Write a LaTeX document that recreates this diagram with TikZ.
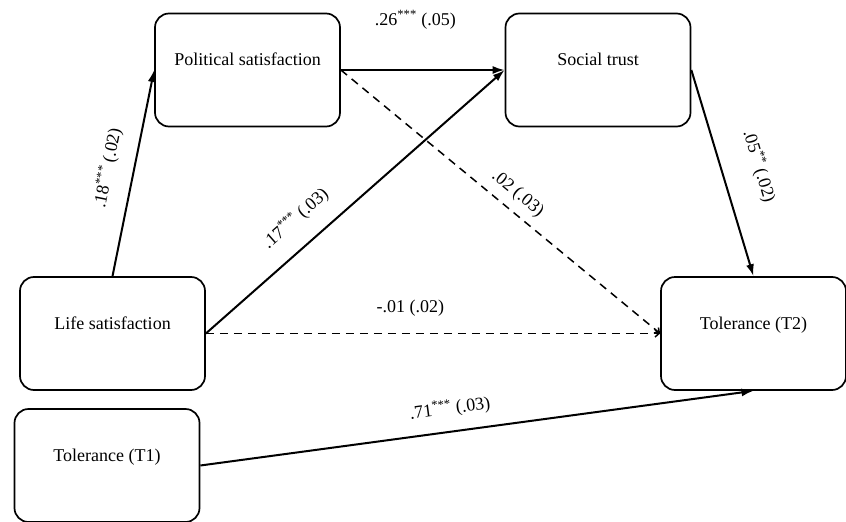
\documentclass[tikz,border=0pt]{standalone}
\usepackage{fontspec}
\setmainfont{Liberation Serif}
\usepackage{tikz}
\usetikzlibrary{arrows.meta}

\begin{document}
\begin{tikzpicture}[
  x=1pt, y=-1pt,
  box/.style={draw, line width=1.7pt, rounded corners=14pt, minimum width=185pt, minimum height=113pt, align=center, text height=12pt, text depth=21pt, font=\fontsize{18}{21}\selectfont},
  lbl/.style={inner sep=1pt, font=\fontsize{18}{21}\selectfont},
  arrow/.style={-{Latex[length=12pt,width=8pt]}, line width=2pt},
  dasharrow/.style={-{Straight Barb[length=4pt,width=7pt]}, line width=1.5pt, dash pattern=on 8pt off 6pt}
]
\useasboundingbox (0,0) rectangle (846,522);

\node[box] (pol) at (247.5,70) {Political satisfaction};
\node[box] (soc) at (598,70) {Social trust};
\node[box] (life) at (112.5,333.5) {Life satisfaction};
\node[box] (toltwo) at (753.5,333.5) {Tolerance (T2)};
\node[box] (tolone) at (107,465.5) {Tolerance (T1)};

\draw[arrow] (life.north) -- node[lbl, sloped, above=15pt] {.18\textsuperscript{***} (.02)} (pol.west);
\draw[arrow] (pol.east) -- node[lbl, pos=0.455, above=39pt] {.26\textsuperscript{***} (.05)} (soc.west);
\draw[arrow] (life.east) -- node[lbl, sloped, pos=0.36, above=16pt] {.17\textsuperscript{***} (.03)} (soc.west);
\draw[dasharrow] (pol.east) -- node[lbl, sloped, pos=0.52, above=7pt] {.02 (.03)} (toltwo.west);
\draw[dasharrow] (life.east) -- node[lbl, pos=0.45, above=15pt] {-.01 (.02)} (toltwo.west);
\draw[arrow] (soc.east) -- node[lbl, sloped, pos=0.52, above=26pt] {.05\textsuperscript{**} (.02)} (toltwo.north);
\draw[arrow] (tolone.east) -- node[lbl, sloped, pos=0.457, above=12pt] {.71\textsuperscript{***} (.03)} (toltwo.south);
\end{tikzpicture}
\end{document}
